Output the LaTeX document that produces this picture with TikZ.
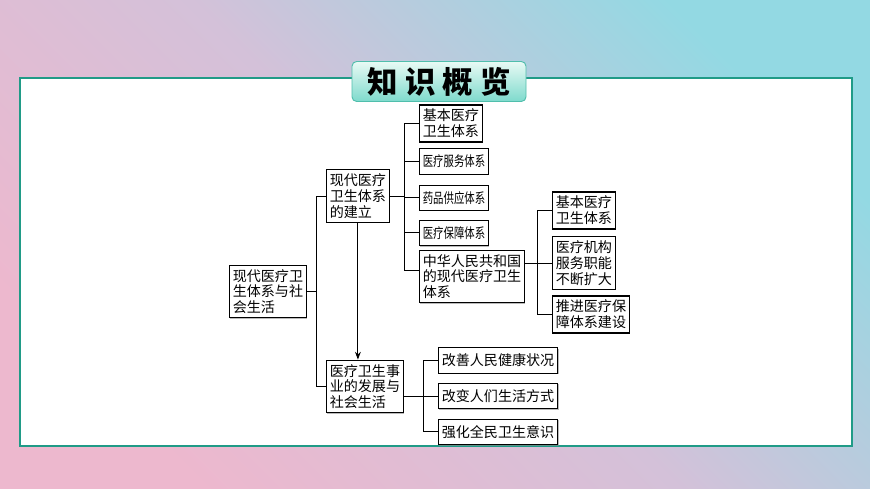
\documentclass[tikz,border=0pt]{standalone}
\usepackage{fontspec}
\setmainfont{Noto Sans CJK SC}
\usepackage{graphicx}
\usetikzlibrary{arrows.meta, positioning, shadows}

\definecolor{bgur}{RGB}{147,217,227}
\definecolor{bgll}{RGB}{237,184,206}
\definecolor{bgmid}{RGB}{212,193,217}
\definecolor{panelteal}{RGB}{32,155,135}
\definecolor{titletop}{RGB}{232,250,245}
\definecolor{titlebot}{RGB}{126,218,204}
\definecolor{titleline}{RGB}{80,190,172}

\newcommand\squeezed[1]{\scalebox{0.74}[1]{#1}}

\begin{document}
\begin{tikzpicture}[
    x=0.03cm, y=-0.03cm, >=Stealth, node distance=0.28cm,
    box/.style={draw, line width=0.9pt, fill=white, align=left,
      inner xsep=2.8pt, inner ysep=3.5pt, anchor=west,
      font=\fontsize{12}{13.5}\selectfont,
      drop shadow={shadow xshift=0.8pt, shadow yshift=-0.8pt,
        fill=black!45, opacity=0.6}},
    onebox/.style={box, minimum height=0.76cm},
    link/.style={line width=0.8pt}
  ]
  \useasboundingbox (0,0) rectangle (870,489);
  % background and panel
  \shade[left color=bgur, right color=bgll, middle color=bgmid,
         shading angle=-45] (0,0) rectangle (870,489);
  \draw[panelteal, line width=1.6pt, fill=white] (20,78) rectangle (852,446);

  \node[draw=titleline, line width=0.8pt, rounded corners=4pt,
        top color=titletop, bottom color=titlebot,
        minimum width=5.22cm, minimum height=1.2cm,
        font=\fontsize{26}{26}\selectfont\bfseries] (ttl) at (439,81.5)
    {知\hspace{6pt}识\hspace{6pt}概\hspace{6pt}览};

  % tree
  \node[box] (root) at (229,291.5) {现代医疗卫\\生体系与社\\会生活};
  \node[box] (est) at (326,196) {现代医疗\\卫生体系\\的建立};
  \node[box] (dev) at (326,386.5) {医疗卫生事\\业的发展与\\社会生活};

  \node[box] (k1) at (419,123.5) {基本医疗\\卫生体系};
  \node[onebox] (k2) at (419,161.5) {\squeezed{医疗服务体系}};
  \node[onebox, below=0.3cm of k2] (k3) {\squeezed{药品供应体系}};
  \node[onebox, below=0.26cm of k3] (k4) {\squeezed{医疗保障体系}};
  \node[box] (k5) at (419,276.5) {中华人民共和国\\的现代医疗卫生\\体系};

  \node[box] (s1) at (552,210.5) {基本医疗\\卫生体系};
  \node[box] (s2) at (552,263) {医疗机构\\服务职能\\不断扩大};
  \node[box] (s3) at (552,314.5) {推进医疗保\\障体系建设};

  \node[onebox] (g1) at (438,360.5) {改善人民健康状况};
  \node[onebox, below=of g1] (g2) {改变人们生活方式};
  \node[onebox, below=of g2] (g3) {强化全民卫生意识};

  \draw[link] (root.east) -- ++(10,0);
  \draw[link] (est.west) -- ++(-10,0) |- (dev.west);
  \draw[link, ->] (est.south) -- (est.south |- dev.north);

  \draw[link] (est.east) -- ++(15,0);
  \draw[link] (k1.west) -- ++(-15,0) |- ([yshift=0.18cm]k5.west);
  \foreach \k in {k2, k3, k4}
    \draw[link] (\k.west) -- ++(-15,0);

  \draw[link] (k5.east |- s2.west) -- (s2.west);
  \draw[link] (s1.west) -- ++(-15,0) |- (s3.west);

  \draw[link] (dev.east |- g2.west) -- (g2.west);
  \draw[link] (g1.west) -- ++(-15,0) |- (g3.west);
\end{tikzpicture}
\end{document}
